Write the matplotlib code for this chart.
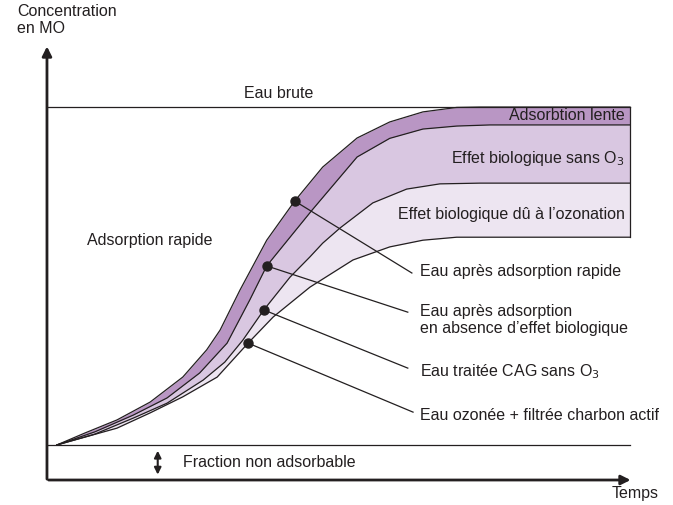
import matplotlib.pyplot as plt
import numpy as np

plt.rcParams['font.family'] = ['Liberation Sans', 'DejaVu Sans']

# courbes (temps 0..100, concentration 0..100 = eau brute)
t1 = [1.7, 6.5, 12.0, 17.7, 23.3, 27.4, 29.7, 33.1, 37.7, 42.5, 47.3, 53.2, 58.8, 64.5, 70.3, 74.3, 100]
c1 = [9.4, 12.6, 16.1, 20.9, 27.6, 34.9, 40.2, 50.9, 64.3, 74.8, 83.9, 91.7, 96.0, 98.7, 99.9, 100, 100]

t2 = [1.7, 8.2, 14.8, 20.6, 26.2, 30.9, 34.8, 37.7, 41.7, 45.5, 53.2, 58.8, 64.5, 70.3, 76.0, 100]
c2 = [9.4, 12.9, 17.4, 22.0, 28.7, 36.7, 48.3, 57.4, 65.1, 72.4, 86.6, 91.6, 94.1, 94.9, 95.2, 95.2]

t3 = [1.7, 8.2, 14.8, 20.6, 26.8, 30.5, 33.6, 37.2, 41.7, 45.1, 47.3, 50.3, 55.9, 61.7, 67.4, 74.3, 100]
c3 = [9.4, 12.3, 16.6, 20.6, 26.8, 31.6, 37.5, 45.6, 54.4, 59.8, 63.5, 67.6, 74.3, 78.0, 79.4, 79.6, 79.6]

t4 = [1.7, 6.5, 12.0, 17.7, 23.3, 29.2, 34.5, 38.8, 45.1, 52.5, 58.8, 64.5, 70.3, 100]
c4 = [9.4, 11.5, 13.9, 18.0, 22.3, 27.6, 36.7, 43.7, 51.7, 59.0, 62.5, 64.3, 65.1, 65.1]

eau_brute = 100
non_adsorbable = 9.4

# points repères et libellés
dots_t = [42.5, 37.7, 37.2, 34.5]
dots_c = [74.8, 57.4, 45.6, 36.7]
lead_t = [62.6, 61.9, 61.9, 62.8]
lead_c = [55.5, 45.0, 30.0, 18.2]
labels = ['Eau après adsorption rapide',
          'Eau après adsorption\nen absence d\u2019effet biologique',
          'Eau traitée CAG sans O$_3$',
          'Eau ozonée + filtrée charbon actif']
label_c = [55.8, 42.9, 29.0, 17.4]

dark = '#b996c4'
mid = '#d9c7e1'
light = '#ede5f1'
ink = '#231f20'

fig = plt.figure(figsize=(6.73, 5.05), dpi=100)
ax = fig.add_axes([0, 0, 1, 1])
ax.set_xlim(-8.06, 107.4)
ax.set_ylim(-6.7, 128.7)
ax.axis('off')

grid = np.linspace(1.7, 100, 800)
y1 = np.interp(grid, t1, c1)
y2 = np.interp(grid, t2, c2)
y3 = np.interp(grid, t3, c3)
y4 = np.interp(grid, t4, c4)
ax.fill_between(grid, y2, y1, color=dark, lw=0)
ax.fill_between(grid, y3, y2, color=mid, lw=0)
ax.fill_between(grid, y4, y3, color=light, lw=0)
for t, c in [(t1, c1), (t2, c2), (t3, c3), (t4, c4)]:
    ax.plot(t, c, color=ink, lw=0.9, solid_joinstyle='round')
ax.plot([100, 100], [c4[-1], c1[-1]], color=ink, lw=0.9)

ax.plot([0, 100], [eau_brute, eau_brute], color=ink, lw=0.9)
ax.plot([0, 100], [non_adsorbable, non_adsorbable], color=ink, lw=0.9)

# axes
ax.annotate('', xy=(0, 117), xytext=(0, -0.5),
            arrowprops=dict(arrowstyle='-|>', lw=2, color=ink, mutation_scale=14))
ax.annotate('', xy=(100.6, 0), xytext=(-0.2, 0),
            arrowprops=dict(arrowstyle='-|>', lw=2, color=ink, mutation_scale=14))
ax.annotate('', xy=(19.0, 0.7), xytext=(19.0, 8.6),
            arrowprops=dict(arrowstyle='<|-|>', lw=1.5, color=ink, mutation_scale=10))

for dt, dc, lt, lc in zip(dots_t, dots_c, lead_t, lead_c):
    ax.plot([dt, lt], [dc, lc], color=ink, lw=0.9)
ax.plot(dots_t, dots_c, 'o', color=ink, ms=6.5, zorder=5)

fs = 11.5
for lab, lc in zip(labels, label_c):
    ax.text(64.0, lc, lab, fontsize=fs, color=ink, va='center', ha='left', linespacing=1.15)

ax.text(39.8, 103.5, 'Eau brute', fontsize=fs, color=ink, ha='center', va='center')
ax.text(99.1, 97.6, 'Adsorbtion lente', fontsize=fs, color=ink, ha='right', va='center')
ax.text(99.1, 86.3, 'Effet biologique sans O$_3$', fontsize=fs, color=ink, ha='right', va='center')
ax.text(99.1, 71.3, 'Effet biologique dû à l\u2019ozonation', fontsize=fs, color=ink, ha='right', va='center')
ax.text(6.9, 64.3, 'Adsorption rapide', fontsize=fs, color=ink, ha='left', va='center')
ax.text(23.3, 4.6, 'Fraction non adsorbable', fontsize=fs, color=ink, ha='left', va='center')
ax.text(100.9, -3.5, 'Temps', fontsize=fs, color=ink, ha='center', va='center')
ax.text(-5.1, 127.6, 'Concentration\nen MO', fontsize=fs, color=ink, ha='left', va='top', linespacing=1.15)

fig.savefig('out.png', dpi=100)
